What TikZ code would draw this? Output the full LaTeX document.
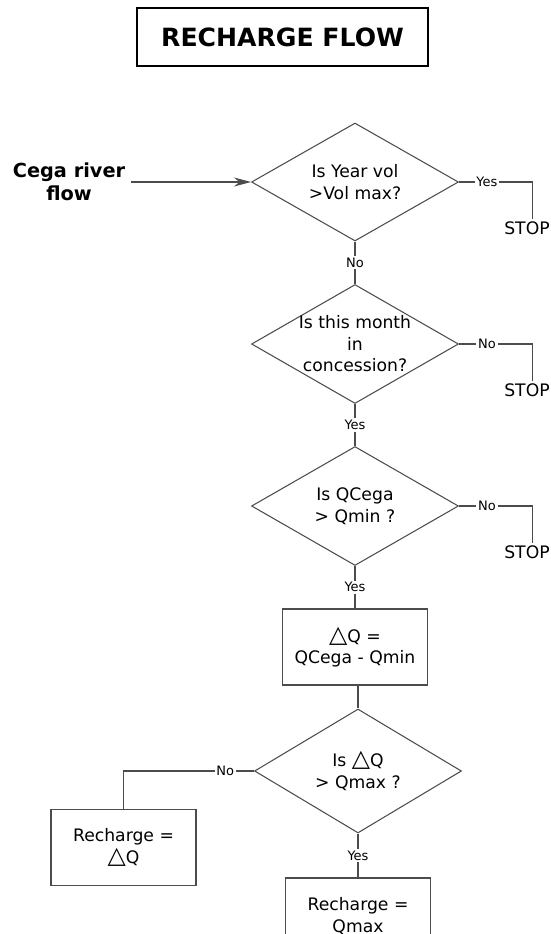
\documentclass[tikz,border=0pt]{standalone}
\usepackage{fontspec}
\setmainfont{DejaVu Sans}
\usetikzlibrary{shapes.geometric,arrows.meta}
\newcommand{\tri}{{\fontsize{13.5}{12}\selectfont △}}
\begin{document}
\begin{tikzpicture}[x=0.02cm, y=-0.02cm,
    line/.style={draw=black!70, line width=0.6pt},
    decision/.style={diamond, line, minimum width=4.14cm, inner sep=0pt, aspect=1.74},
    process/.style={rectangle, line, minimum width=2.9cm, minimum height=1.52cm},
    txt/.style={align=center, font=\fontsize{9.8}{12.2}\selectfont},
    lbl/.style={fill=white, inner sep=1pt, font=\fontsize{7.4}{8}\selectfont}]
    \useasboundingbox (0,0) rectangle (551,934);
    % Title and input
    \node[draw, line width=1.1pt, minimum width=5.82cm, minimum height=1.16cm,
          font=\fontsize{14.3}{16}\selectfont\bfseries] (title) at (282.5,37) {RECHARGE FLOW};
    \node[align=center, font=\fontsize{11}{13}\selectfont\bfseries] (cega) at (69,182) {Cega river\\flow};
    % Decisions
    \foreach \n/\x/\y/\h/\q in {d1/355/182/2.36/{Is Year vol\\>Vol max?},
                                d2/355/344/2.38/{Is this month\\in\\concession?},
                                d3/355/506/2.38/{Is QCega\\> Qmin ?},
                                d4/358/771/2.48/{Is \tri Q\\> Qmax ?}} {
        \node[decision, minimum height=\h cm] (\n) at (\x,\y) {};
        \node[txt] at (\n) {\q};
    }
    % Boxes
    \node[process, txt] (b1) at (355,647) {\tri Q =\\QCega - Qmin};
    \node[process, txt] (b2) at (123.5,847.5) {Recharge =\\\tri Q};
    \node[process, txt] (b3) at (358,916) {Recharge =\\Qmax};
    % Stops
    \foreach \s/\y in {s1/228, s2/390, s3/552} {
        \node[txt, inner sep=1pt] (\s) at (527,\y) {STOP};
        \coordinate (\s t) at ([xshift=0.11cm]\s.north);
    }
    % Connectors
    \draw[line, -{Stealth[length=0.34cm, width=0.18cm]}] (cega.east) -- (d1.west);
    \foreach \d/\s/\a in {d1/s1/Yes, d2/s2/No, d3/s3/No}
        \draw[line] (\d.east) -- node[lbl, pos=0.38] {\a} (\d.east -| \s t) -- (\s t);
    \foreach \a/\b/\lab in {d1/d2/No, d2/d3/Yes, d3/b1/Yes, d4/b3/Yes}
        \draw[line] (\a) -- node[lbl] {\lab} (\b);
    \draw[line] (b1.south -| d4.north) -- (d4.north);
    \draw[line] (d4.west) -- node[lbl, pos=0.22] {No} (d4.west -| b2.north) -- (b2.north);
\end{tikzpicture}
\end{document}
